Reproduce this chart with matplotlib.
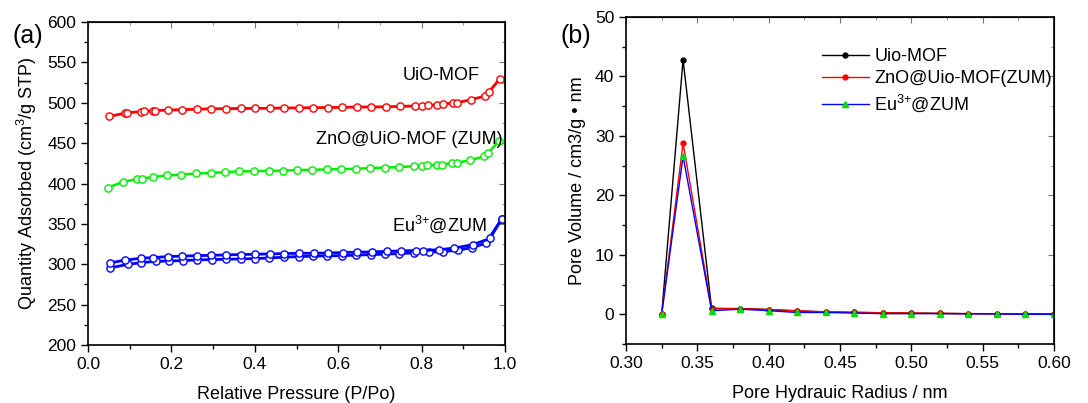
import matplotlib.pyplot as plt
from matplotlib.ticker import MultipleLocator

plt.rcParams['font.family'] = ['Liberation Sans', 'DejaVu Sans']
plt.rcParams['mathtext.fontset'] = 'custom'
plt.rcParams['mathtext.rm'] = 'Liberation Sans'

# ---- panel (a): N2 isotherms ----
p_uio = [0.050, 0.088, 0.094, 0.126, 0.134, 0.156, 0.161, 0.192, 0.226, 0.262,
         0.295, 0.331, 0.366, 0.400, 0.436, 0.470, 0.506, 0.540, 0.575, 0.610,
         0.645, 0.679, 0.714, 0.749, 0.784, 0.802, 0.816, 0.838, 0.852, 0.876,
         0.886, 0.919, 0.953, 0.962, 0.988]
q_uio = [483, 487, 487.5, 489, 489.3, 490, 490.2, 491, 491.4, 492,
         492.5, 492.6, 493, 493, 493.2, 493.5, 493.6, 494, 494, 494.3,
         494.7, 494.8, 495, 495.5, 496, 496.5, 496.8, 497.5, 498, 500,
         500.3, 503.7, 508.6, 513.6, 530]

p_zum = [0.048, 0.084, 0.118, 0.130, 0.155, 0.190, 0.224, 0.259, 0.294, 0.328,
         0.362, 0.398, 0.433, 0.468, 0.502, 0.538, 0.572, 0.606, 0.642, 0.676,
         0.712, 0.746, 0.782, 0.800, 0.814, 0.836, 0.848, 0.873, 0.884, 0.917,
         0.950, 0.960, 0.986]
q_zum = [395, 402, 405.4, 406, 408, 410, 411, 412.4, 413, 414,
         415, 415.3, 415.7, 416, 416.5, 417, 417.4, 417.8, 418.2, 419,
         419.8, 420.2, 421.5, 422, 422.3, 423, 423.5, 425, 425.6, 429,
         433.5, 438, 453]

p_eu_ads = [0.052, 0.097, 0.128, 0.164, 0.194, 0.227, 0.262, 0.297, 0.331, 0.366,
            0.401, 0.435, 0.470, 0.505, 0.539, 0.574, 0.609, 0.643, 0.678, 0.712,
            0.747, 0.782, 0.817, 0.852, 0.887, 0.922, 0.954, 0.992]
q_eu_ads = [295.5, 300, 302, 303.7, 304, 304.5, 305.4, 305.8, 306.2, 306.6,
            307, 307.8, 308.7, 309.5, 310, 310.3, 310.7, 311.2, 312, 312.4,
            313.2, 314, 315, 315.7, 317.4, 320.7, 326, 356]
p_eu_des = [0.052, 0.088, 0.126, 0.156, 0.192, 0.226, 0.262, 0.296, 0.332, 0.366,
            0.401, 0.437, 0.471, 0.506, 0.541, 0.576, 0.611, 0.646, 0.682, 0.716,
            0.750, 0.786, 0.804, 0.841, 0.878, 0.924, 0.964, 0.992]
q_eu_des = [301.6, 305, 307.4, 308.3, 309.5, 310, 310.7, 311, 311.6, 312,
            312.4, 312.8, 313.2, 313.6, 313.6, 314, 314.5, 315, 315.3, 316,
            316.5, 317, 317, 318, 320, 324.4, 332, 356]

# ---- panel (b): pore size distribution ----
radius = [0.325, 0.34, 0.36, 0.38, 0.40, 0.42, 0.44, 0.46, 0.48, 0.50,
          0.52, 0.54, 0.56, 0.58, 0.60]
pv_uio = [0, 42.8, 1.0, 0.95, 0.8, 0.55, 0.4, 0.3, 0.25, 0.2,
          0.15, 0.1, 0.1, 0.05, 0.05]
pv_zum = [0, 28.8, 0.9, 0.95, 0.8, 0.6, 0.4, 0.35, 0.25, 0.2,
          0.15, 0.1, 0.1, 0.05, 0.05]
pv_eu = [0, 26.6, 0.6, 0.85, 0.6, 0.3, 0.3, 0.2, 0.1, 0.1,
         0.1, 0.1, 0.05, 0.0, 0.0]

TICK_FS = 12.5
LABEL_FS = 13
EU_LABEL = r'$\mathregular{Eu^{3\!+}\!@ZUM}$'


def style_axes(ax, xmaj, xmin, ymaj, ymin):
    ax.xaxis.set_major_locator(MultipleLocator(xmaj))
    ax.xaxis.set_minor_locator(MultipleLocator(xmin))
    ax.yaxis.set_major_locator(MultipleLocator(ymaj))
    ax.yaxis.set_minor_locator(MultipleLocator(ymin))
    ax.tick_params(which='both', direction='out', top=False, right=False,
                   labelsize=TICK_FS, width=1, colors='black')
    ax.tick_params(which='major', length=5)
    ax.tick_params(which='minor', length=3)
    # mirrored inward ticks on top / right, no labels
    sec_x = ax.secondary_xaxis('top')
    sec_y = ax.secondary_yaxis('right')
    sec_x.xaxis.set_major_locator(MultipleLocator(xmaj))
    sec_x.xaxis.set_minor_locator(MultipleLocator(xmin))
    sec_y.yaxis.set_major_locator(MultipleLocator(ymaj))
    sec_y.yaxis.set_minor_locator(MultipleLocator(ymin))
    for sec in (sec_x, sec_y):
        sec.tick_params(which='both', direction='in', labelleft=False,
                        labelright=False, labeltop=False, labelbottom=False,
                        color='#777777')
        sec.tick_params(which='major', length=4)
        sec.tick_params(which='minor', length=2)
    for s in ax.spines.values():
        s.set_linewidth(1.2)


fig = plt.figure(figsize=(10.88, 4.03), dpi=100)
ax1 = fig.add_axes([88 / 1088, 1 - 345 / 403, 417 / 1088, 323 / 403])
ax2 = fig.add_axes([626 / 1088, 1 - 344 / 403, 428 / 1088, 327 / 403])

mk = dict(marker='o', markersize=5.2, markerfacecolor='white', markeredgewidth=1.0)
ax1.plot(p_uio, q_uio, color='#ff0000', lw=2.0, **mk)
ax1.plot(p_zum, q_zum, color='#00ee00', lw=1.8, **mk)
ax1.plot(p_eu_ads, q_eu_ads, color='#0000ff', lw=2.0, **mk)
ax1.plot(p_eu_des, q_eu_des, color='#0000ff', lw=2.0, **mk)

ax1.set_xlim(0, 1.0)
ax1.set_ylim(200, 600)
style_axes(ax1, 0.2, 0.1, 50, 25)

ax1.set_xlabel('Relative Pressure (P/Po)', fontsize=LABEL_FS, labelpad=10)
ax1.set_ylabel('Quantity Adsorbed (cm$^3$/g STP)', fontsize=LABEL_FS, labelpad=6)
ax1.text(0.94, 534, 'UiO-MOF', fontsize=LABEL_FS, ha='right', va='center')
ax1.text(0.995, 454, 'ZnO@UiO-MOF (ZUM)', fontsize=LABEL_FS, ha='right', va='center')
ax1.text(0.957, 350, EU_LABEL, fontsize=LABEL_FS, ha='right', va='center')
fig.text(13 / 1088, 1 - 36 / 403, '(a)', fontsize=18, ha='left', va='center')

ax2.plot(radius, pv_uio, color='black', lw=1, marker='o', markersize=3.5,
         label='Uio-MOF')
ax2.plot(radius, pv_zum, color='#ff0000', lw=1, marker='o', markersize=3.5,
         label='ZnO@Uio-MOF(ZUM)')
ax2.plot(radius, pv_eu, color='#0000ff', lw=1, marker='^', markersize=4,
         markerfacecolor='#00dd00', markeredgecolor='#00dd00', label=EU_LABEL)

ax2.set_xlim(0.30, 0.60)
ax2.set_ylim(-5, 50)
style_axes(ax2, 0.05, 0.025, 10, 5)
ax2.set_xticks([0.30, 0.35, 0.40, 0.45, 0.50, 0.55, 0.60])
ax2.set_xticklabels(['0.30', '0.35', '0.40', '0.45', '0.50', '0.55', '0.60'])
ax2.set_yticks([0, 10, 20, 30, 40, 50])

ax2.set_xlabel('Pore Hydrauic Radius / nm', fontsize=LABEL_FS, labelpad=10)
ax2.set_ylabel('Pore Volume / cm3/g \u2022 nm', fontsize=LABEL_FS, labelpad=6)
ax2.legend(loc='upper left', bbox_to_anchor=(0.42, 0.955), frameon=False,
           fontsize=LABEL_FS, handlelength=2.6, handletextpad=0.3, labelspacing=0.3)
fig.text(561 / 1088, 1 - 36 / 403, '(b)', fontsize=18, ha='left', va='center')

fig.savefig('out.png', dpi=100)
